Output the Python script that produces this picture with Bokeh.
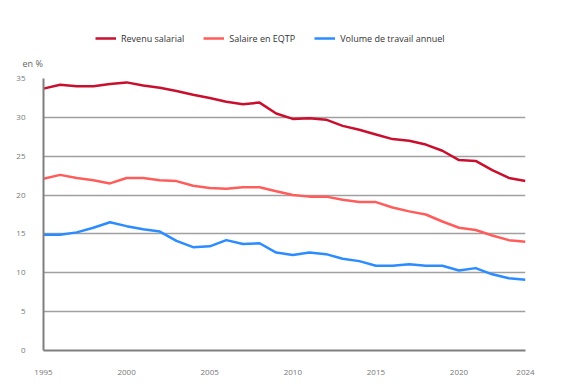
from bokeh.plotting import figure
from bokeh.models import Range1d, Legend, LegendItem, FixedTicker, Label
from bokeh.embed import file_html
from bokeh.resources import INLINE

years = list(range(1995, 2025))
revenu_salarial = [33.7, 34.2, 34.0, 34.0, 34.3, 34.5, 34.1, 33.8, 33.4, 32.9,
                   32.5, 32.0, 31.7, 31.9, 30.5, 29.8, 29.9, 29.7, 28.9, 28.4,
                   27.8, 27.2, 27.0, 26.5, 25.7, 24.5, 24.4, 23.2, 22.2, 21.8]
salaire_eqtp = [22.1, 22.6, 22.2, 21.9, 21.5, 22.2, 22.2, 21.9, 21.8, 21.2,
                20.9, 20.8, 21.0, 21.0, 20.5, 20.0, 19.8, 19.8, 19.4, 19.1,
                19.1, 18.4, 17.9, 17.5, 16.6, 15.8, 15.5, 14.8, 14.2, 14.0]
volume_travail = [14.9, 14.9, 15.2, 15.8, 16.5, 16.0, 15.6, 15.3, 14.1, 13.3,
                  13.4, 14.2, 13.7, 13.8, 12.6, 12.3, 12.6, 12.4, 11.8, 11.5,
                  10.9, 10.9, 11.1, 10.9, 10.9, 10.3, 10.6, 9.8, 9.3, 9.1]
series_names = ["Revenu salarial", "Salaire en EQTP", "Volume de travail annuel"]
x_ticks = [1995, 2000, 2005, 2010, 2015, 2020, 2024]
y_ticks = [0, 5, 10, 15, 20, 25, 30, 35]
unit_label = "en %"

FONT = "Open Sans"
colors = ["#c8102e", "#ff5c5c", "#2b8cff"]
W = 552
all_series = [revenu_salarial, salaire_eqtp, volume_travail]

# ---- header: legend + unit label (separate root so its frame is not aligned) ----
header = figure(width=W, height=70, output_backend="svg", toolbar_location=None,
                x_range=Range1d(0, 1), y_range=Range1d(0, 1),
                x_axis_type=None, y_axis_type=None, min_border=0)
header.outline_line_color = None
header.xgrid.grid_line_color = None
header.ygrid.grid_line_color = None
# key renderers: same series, outside the header's visible range (only their legend swatches show)
key_renderers = [header.line(years, ys, line_color=c, line_width=2.5)
                 for ys, c in zip(all_series, colors)]
legend = Legend(items=[LegendItem(label=n, renderers=[r]) for n, r in zip(series_names, key_renderers)],
                orientation="horizontal", location=(95, 25),
                label_text_font=FONT, label_text_font_size="9px", label_text_color="#333333",
                glyph_width=21, glyph_height=14, label_height=14, spacing=19, label_standoff=5,
                border_line_color=None, background_fill_alpha=0, padding=0, margin=0)
header.add_layout(legend, "center")
header.add_layout(Label(x=22, y=7, x_units="screen", y_units="screen", text=unit_label,
                        text_baseline="middle", text_font=FONT, text_font_size="9px",
                        text_color="#666666"))

# ---- main chart ----
p = figure(width=W, height=310, output_backend="svg", toolbar_location=None,
           x_range=Range1d(1995, 2024), y_range=Range1d(0, 35),
           min_border_left=43, min_border_right=27, min_border_top=8, min_border_bottom=30)
p.outline_line_color = None

for ys, c in zip(all_series, colors):
    p.line(years, ys, line_color=c, line_width=2.5)

p.xaxis.ticker = FixedTicker(ticks=x_ticks)
p.yaxis.ticker = FixedTicker(ticks=y_ticks)
for ax in (p.xaxis, p.yaxis):
    ax.major_tick_line_color = None
    ax.minor_tick_line_color = None
    ax.axis_line_color = "#7f7f7f"
    ax.axis_line_width = 2
    ax.major_label_text_font = FONT
    ax.major_label_text_font_size = "8px"
    ax.major_label_text_color = "#777777"
p.xaxis.major_label_standoff = 13
p.yaxis.major_label_standoff = 12
p.xgrid.grid_line_color = None
p.ygrid.grid_line_color = "#a0a0a0"
p.ygrid.grid_line_width = 1.5

open("out.html", "w").write(file_html([header, p], INLINE))
